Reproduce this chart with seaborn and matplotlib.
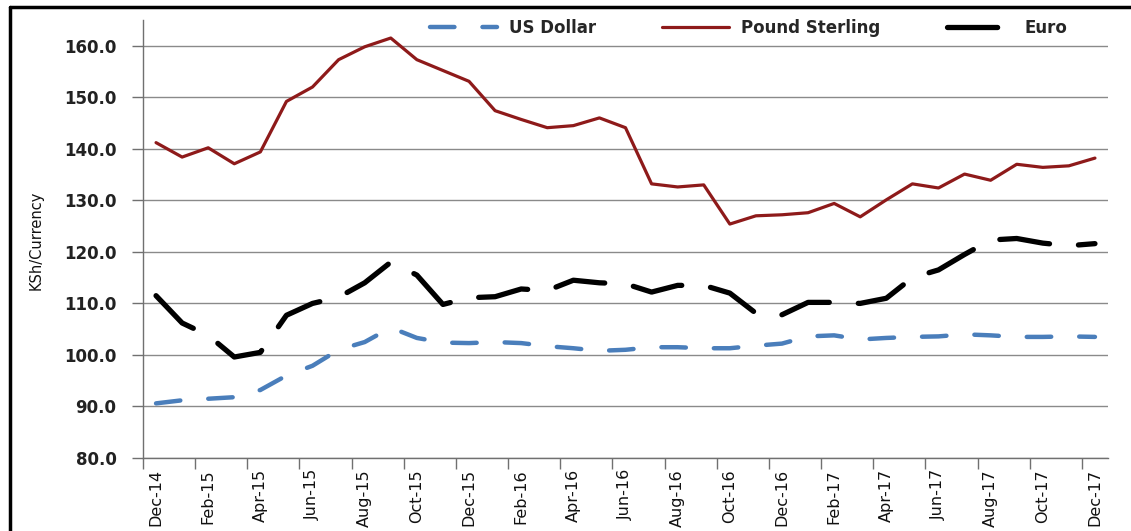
import numpy as np
import pandas as pd
import matplotlib
matplotlib.use('Agg')
import matplotlib.pyplot as plt
from matplotlib.lines import Line2D
import seaborn as sns

months = ['Dec-14', 'Jan-15', 'Feb-15', 'Mar-15', 'Apr-15', 'May-15', 'Jun-15', 'Jul-15',
          'Aug-15', 'Sep-15', 'Oct-15', 'Nov-15', 'Dec-15', 'Jan-16', 'Feb-16', 'Mar-16',
          'Apr-16', 'May-16', 'Jun-16', 'Jul-16', 'Aug-16', 'Sep-16', 'Oct-16', 'Nov-16',
          'Dec-16', 'Jan-17', 'Feb-17', 'Mar-17', 'Apr-17', 'May-17', 'Jun-17', 'Jul-17',
          'Aug-17', 'Sep-17', 'Oct-17', 'Nov-17', 'Dec-17']

us_dollar = [90.6, 91.2, 91.5, 91.8, 93.2, 96.0, 97.9, 101.0, 102.5, 105.3, 103.3, 102.4,
             102.3, 102.5, 102.3, 101.7, 101.3, 100.8, 101.0, 101.5, 101.5, 101.3, 101.3,
             101.8, 102.2, 103.6, 103.8, 103.0, 103.3, 103.5, 103.6, 104.0, 103.8, 103.5,
             103.5, 103.6, 103.5]

pound = [141.2, 138.4, 140.2, 137.1, 139.4, 149.2, 152.0, 157.3, 159.8, 161.5, 157.3, 155.2,
         153.1, 147.4, 145.7, 144.1, 144.5, 146.0, 144.1, 133.2, 132.6, 133.0, 125.4, 127.0,
         127.2, 127.6, 129.4, 126.8, 130.1, 133.2, 132.4, 135.1, 133.9, 137.0, 136.4, 136.7,
         138.2]

euro = [111.5, 106.2, 103.8, 99.6, 100.5, 107.7, 110.0, 111.2, 114.0, 118.0, 115.5, 109.8,
        111.1, 111.3, 112.8, 112.5, 114.5, 114.0, 113.8, 112.2, 113.5, 113.5, 112.0, 108.1,
        107.8, 110.2, 110.2, 110.0, 111.0, 115.0, 116.5, 119.5, 122.3, 122.6, 121.7, 121.2,
        121.6]

y_ticks = [80, 90, 100, 110, 120, 130, 140, 150, 160]

df = pd.DataFrame({'pos': np.arange(len(months)), 'month': months,
                   'US Dollar': us_dollar, 'Pound Sterling': pound, 'Euro': euro})

sns.set_style('white')
plt.rcParams['font.family'] = ['DejaVu Sans']

fig = plt.figure(figsize=(11.31, 5.31), dpi=100)
ax = fig.add_axes([143 / 1131, 1 - 458 / 531, 965 / 1131, 438 / 531])

sns.lineplot(data=df, x='pos', y='US Dollar', ax=ax, color='#4a7ebb', linewidth=3.2,
             linestyle=(0, (5.5, 6.3)), dash_capstyle='round', label='US Dollar')
sns.lineplot(data=df, x='pos', y='Pound Sterling', ax=ax, color='#8e1a1a', linewidth=2.3,
             label='Pound Sterling')
sns.lineplot(data=df, x='pos', y='Euro', ax=ax, color='black', linewidth=3.8,
             linestyle=(0, (9.5, 5.5)), dash_capstyle='round', label='Euro')

ax.set_xlim(-0.5, len(months) - 0.5)
ax.set_ylim(80, 165)

ax.set_yticks(y_ticks)
ax.set_yticklabels([f'{v:.1f}' for v in y_ticks], fontsize=12, fontweight='bold', color='#222222')
ax.yaxis.grid(True, color='#8a8a8a', linewidth=1.0)
ax.xaxis.grid(False)

ax.set_xticks(np.arange(-0.5, len(months) - 1, 2))
ax.set_xticklabels([])
ax.set_xticks(np.arange(0, len(months), 2), minor=True)
ax.set_xticklabels(months[::2], minor=True, rotation=90, fontsize=11.5, color='#111111')
ax.tick_params(axis='x', which='major', direction='out', length=8, width=1, color='#707070', bottom=True)
ax.tick_params(axis='x', which='minor', length=0, pad=8)
ax.tick_params(axis='y', direction='out', length=8, width=1, color='#707070', left=True, pad=11)

for side in ['top', 'right']:
    ax.spines[side].set_visible(False)
for side in ['left', 'bottom']:
    ax.spines[side].set_color('#707070')
    ax.spines[side].set_linewidth(1.0)

ax.set_xlabel('')
ax.set_ylabel('')
fig.text(36 / 1131, 1 - 240 / 531, 'KSh/Currency', rotation=90, ha='center', va='center',
         fontsize=10.5, color='#111111')

handles, labels = ax.get_legend_handles_labels()
ax.get_legend().remove()
fig.legend(handles, labels, loc='center', bbox_to_anchor=(749 / 1131, 1 - 28 / 531), ncol=3,
           frameon=False, prop={'size': 12, 'weight': 'bold'}, handlelength=4.0,
           handletextpad=0.7, columnspacing=4.0)

# outer frame of the scanned chart
fig.add_artist(Line2D([10 / 1131, 10 / 1131], [0, 1 - 7 / 531], transform=fig.transFigure,
                      color='black', linewidth=2.5))
fig.add_artist(Line2D([10 / 1131, 1], [1 - 7 / 531, 1 - 7 / 531], transform=fig.transFigure,
                      color='black', linewidth=2.5))

fig.savefig('out.png', dpi=100)
